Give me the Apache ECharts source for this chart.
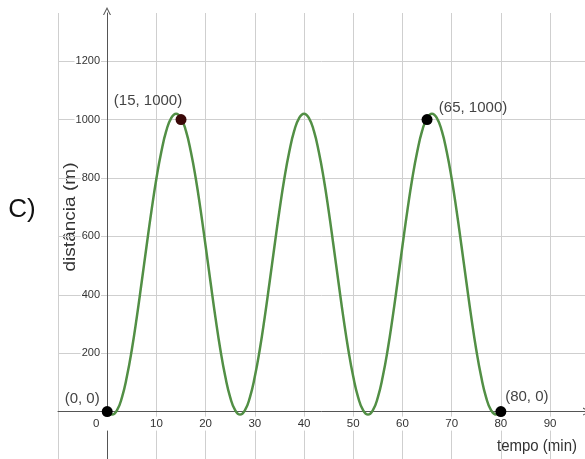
<!DOCTYPE html>
<html>
<head>
<meta charset="utf-8">
<script src="https://cdn.jsdelivr.net/npm/echarts@6/dist/echarts.min.js"></script>
<style>html,body{margin:0;padding:0;background:#fff}#c{width:585px;height:459px}</style>
</head>
<body>
<div id="c"></div>
<script>
// curve values (tempo in min, distância in m)
var tempo = [0,1,2,3,4,5,6,7,8,9,10,11,12,13,14,15,16,17,18,19,20,21,22,23,24,25,26,27,28,29,30,31,32,33,34,35,36,37,38,39,40,41,42,43,44,45,46,47,48,49,50,51,52,53,54,55,56,57,58,59,60,61,62,63,64,65,66,67,68,69,70,71,72,73,74,75,76,77,78,79,80];
var distancia = [5,-10,5,49,120,212,322,443,567,688,798,890,961,1005,1020,1005,961,890,798,688,567,443,322,212,120,49,5,-10,5,49,120,212,322,443,567,688,798,890,961,1005,1020,1005,961,890,798,688,567,443,322,212,120,49,5,-10,5,49,120,212,322,443,567,688,798,890,961,1005,1020,1005,961,890,798,688,567,443,322,212,120,49,5,-10,0];
// marked points
var pointX = [0, 15, 65, 80];
var pointY = [0, 1000, 1000, 0];
// tick labels
var xTicks = [0,10,20,30,40,50,60,70,80,90];
var yTicks = [200,400,600,800,1000,1200];

var pointColors = ['#000', '#3a0808', '#000', '#000'];
var labelOffsets = [[-25,-13],[-33,-19],[46,-12],[26,-15]];

var curve = tempo.map(function(t, i){ return [t, distancia[i]]; });
var points = pointX.map(function(x, i){
  return {
    value: [x, pointY[i]],
    itemStyle: {color: pointColors[i], opacity: 1},
    label: {show: true, offset: labelOffsets[i], position: 'inside'}
  };
});

var chevron = 'path://M0,10 L5,0 L10,10 L8.6,10 L5,2.8 L1.4,10 Z';
var chart = echarts.init(document.getElementById('c'));
chart.setOption({
  animation: false,
  backgroundColor: '#fff',
  grid: {left: 58, right: 0, top: 13, bottom: -11, outerBoundsMode: 'none', containLabel: false},
  xAxis: {
    type: 'value', min: -10, max: 97.1, interval: 10,
    position: 'bottom', offset: -58.4,
    axisLine: {onZero: false, lineStyle: {color: '#555', width: 1}, symbol: ['none', chevron], symbolSize: [8, 9], symbolOffset: [0, 2]},
    axisTick: {show: false},
    splitLine: {show: true, showMaxLine: false, lineStyle: {color: '#cfcfcf', width: 1}},
    axisLabel: {
      color: '#333', fontSize: 11.5, fontFamily: 'Liberation Sans', margin: 5,
      backgroundColor: '#fff', padding: [1, 1, 1, 1],
      formatter: function(v){
        if (v === 0) return '{z|0}';
        return xTicks.indexOf(v) >= 0 ? String(v) : '';
      },
      rich: {z: {padding: [0, 22, 0, 0], color: '#333', fontSize: 11.5, fontFamily: 'Liberation Sans', backgroundColor: 'transparent'}}
    }
  },
  yAxis: {
    type: 'value', min: -200, max: 1365, interval: 200,
    position: 'left', offset: -49,
    axisLine: {onZero: false, lineStyle: {color: '#555', width: 1}, symbol: ['none', chevron], symbolSize: [8, 9], symbolOffset: [0, 2]},
    axisTick: {show: false},
    splitLine: {show: true, showMaxLine: false, lineStyle: {color: '#cfcfcf', width: 1}},
    axisLabel: {
      color: '#333', fontSize: 11, fontFamily: 'Liberation Sans', margin: 6,
      backgroundColor: '#fff', padding: [0, 1, 0, 1],
      formatter: function(v){ return yTicks.indexOf(v) >= 0 ? String(v) : ''; }
    }
  },
  series: [
    {
      type: 'line', data: curve, smooth: 0.5, showSymbol: false,
      lineStyle: {color: '#528f45', width: 2.5}, z: 3
    },
    {
      type: 'scatter', data: points, symbolSize: 11, z: 4,
      label: {
        color: '#444', fontSize: 15, fontFamily: 'Liberation Sans',
        formatter: function(p){ return '(' + p.value[0] + ', ' + p.value[1] + ')'; }
      }
    }
  ],
  graphic: [
    {type: 'text', x: 22, y: 210, style: {text: 'C)', fill: '#111', font: '26px "Liberation Sans"', align: 'center', verticalAlign: 'middle', textAlign: 'center', textVerticalAlign: 'middle'}},
    {type: 'text', x: 70, y: 217, rotation: Math.PI / 2, scaleX: 1.12, style: {text: 'distância (m)', fill: '#333', font: '17px "Liberation Sans"', align: 'center', verticalAlign: 'middle', textAlign: 'center', textVerticalAlign: 'middle'}},
    {type: 'text', x: 537, y: 446, scaleY: 1.12, style: {text: 'tempo (min)', fill: '#333', font: '15px "Liberation Sans"', align: 'center', verticalAlign: 'middle', textAlign: 'center', textVerticalAlign: 'middle'}}
  ]
});
</script>
</body>
</html>
